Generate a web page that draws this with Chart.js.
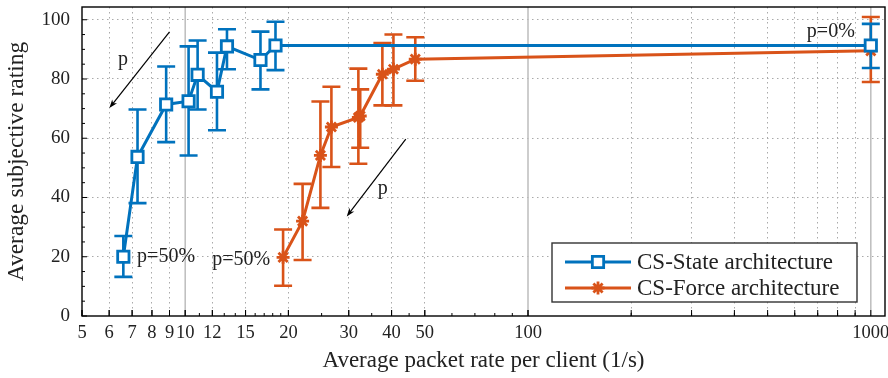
<!DOCTYPE html>
<html>
<head>
<meta charset="utf-8">
<script src="https://cdn.jsdelivr.net/npm/chart.js@4.4.0/dist/chart.umd.min.js"></script>
<style>
  html, body { margin: 0; padding: 0; background: #fff; }
</style>
</head>
<body>
<canvas id="chart" width="888" height="378"></canvas>
<script>
var serif = "'Liberation Serif', 'DejaVu Serif', serif";

// CS-State architecture
var stateRate = [6.6, 7.26, 8.8, 10.23, 10.87, 12.38, 13.24, 16.58, 18.34, 1000];
var stateRating = [20, 53.7, 71.4, 72.5, 81.4, 75.7, 91, 86.4, 91.3, 91.3];
var stateLow = [13.2, 38.1, 58.7, 54.2, 69.7, 62.7, 83.3, 76.5, 83, 83.7];
var stateHigh = [27, 69.7, 84.2, 91, 93, 88.9, 96.8, 96, 99.3, 98.6];

// CS-Force architecture
var forceRate = [19.3, 22.0, 24.8, 26.7, 32.0, 32.4, 37.6, 40.5, 46.9, 1000];
var forceRating = [19.8, 32, 54.2, 63.8, 67, 67.5, 81.6, 83.3, 86.7, 89.5];
var forceLow = [10.2, 18.9, 36.5, 50.3, 51.4, 56.8, 71.1, 71.1, 79.4, 79];
var forceHigh = [29.2, 44.6, 72.4, 77.4, 83.5, 76.5, 92.1, 95, 94.1, 100.9];

var xLabelTicks = [5, 6, 7, 8, 9, 10, 12, 15, 20, 30, 40, 50, 100, 1000];
var xMinorTicks = [200, 300, 400, 500, 600, 700, 800, 900];
var xSolidLines = [10, 100, 1000];
var yTicks = [0, 20, 40, 60, 80, 100];

var blue = '#0072BD';
var orange = '#D95319';

function toPoints(xs, ys) {
    return xs.map(function (x, i) { return { x: x, y: ys[i] }; });
}

var extras = {
    id: 'extras',
    beforeDatasetsDraw: function (chart) {
        var ctx = chart.ctx;
        var area = chart.chartArea;
        var xs = chart.scales.x;
        ctx.save();
        ctx.strokeStyle = '#bdbdbd';
        ctx.lineWidth = 1.5;
        xSolidLines.forEach(function (v) {
            var x = xs.getPixelForValue(v);
            ctx.beginPath();
            ctx.moveTo(x, area.top);
            ctx.lineTo(x, area.bottom);
            ctx.stroke();
        });
        ctx.restore();
    },
    beforeDatasetDraw: function (chart, args) {
        // error bars under each series' line
        var ds = chart.data.datasets[args.index];
        var ys = chart.scales.y;
        var ctx = chart.ctx;
        ctx.save();
        ctx.strokeStyle = ds.borderColor;
        ctx.lineWidth = 2.6;
        args.meta.data.forEach(function (pt, i) {
            var top = ys.getPixelForValue(ds.errHigh[i]);
            var bot = ys.getPixelForValue(ds.errLow[i]);
            ctx.beginPath();
            ctx.moveTo(pt.x, top);
            ctx.lineTo(pt.x, bot);
            ctx.moveTo(pt.x - 9, top);
            ctx.lineTo(pt.x + 9, top);
            ctx.moveTo(pt.x - 9, bot);
            ctx.lineTo(pt.x + 9, bot);
            ctx.stroke();
        });
        ctx.restore();
    },
    afterDraw: function (chart) {
        var ctx = chart.ctx;
        var area = chart.chartArea;
        var xs = chart.scales.x;
        var ys = chart.scales.y;
        ctx.save();

        // inner tick marks
        ctx.strokeStyle = '#000';
        ctx.lineWidth = 1;
        ctx.beginPath();
        for (var v = 0; v <= 100; v += 5) {
            var y = ys.getPixelForValue(v);
            var len = v % 20 === 0 ? 5 : 3;
            ctx.moveTo(area.left, y);
            ctx.lineTo(area.left + len, y);
        }
        var minorX = [];
        for (var m = 5; m <= 20; m++) minorX.push(m);
        [25, 30, 35, 40, 45, 50, 60, 70, 80, 90, 100].forEach(function (m) { minorX.push(m); });
        minorX = minorX.concat(xMinorTicks);
        minorX.forEach(function (m) {
            var x = xs.getPixelForValue(m);
            var len = xLabelTicks.indexOf(m) >= 0 ? 6 : 3;
            ctx.moveTo(x, area.bottom);
            ctx.lineTo(x, area.bottom - len);
        });
        xLabelTicks.concat(xMinorTicks).forEach(function (m) {
            var x = xs.getPixelForValue(m);
            ctx.moveTo(x, area.bottom);
            ctx.lineTo(x, area.bottom - 6);
        });
        ctx.stroke();

        // frame
        ctx.lineWidth = 1.4;
        ctx.strokeRect(area.left, area.top, area.right - area.left, area.bottom - area.top);

        // annotations
        function arrow(x1, y1, x2, y2) {
            var ax = xs.getPixelForValue(x1), ay = ys.getPixelForValue(y1);
            var bx = xs.getPixelForValue(x2), by = ys.getPixelForValue(y2);
            var ang = Math.atan2(by - ay, bx - ax);
            ctx.strokeStyle = '#000';
            ctx.fillStyle = '#000';
            ctx.lineWidth = 1.2;
            ctx.beginPath();
            ctx.moveTo(ax, ay);
            ctx.lineTo(bx - 5 * Math.cos(ang), by - 5 * Math.sin(ang));
            ctx.stroke();
            ctx.beginPath();
            ctx.moveTo(bx, by);
            ctx.lineTo(bx - 9 * Math.cos(ang - 0.35), by - 9 * Math.sin(ang - 0.35));
            ctx.lineTo(bx - 6 * Math.cos(ang), by - 6 * Math.sin(ang));
            ctx.lineTo(bx - 9 * Math.cos(ang + 0.35), by - 9 * Math.sin(ang + 0.35));
            ctx.closePath();
            ctx.fill();
        }
        function label(text, x, y, align) {
            ctx.fillStyle = '#222';
            ctx.font = '20px ' + serif;
            ctx.textAlign = align;
            ctx.textBaseline = 'middle';
            ctx.fillText(text, xs.getPixelForValue(x), ys.getPixelForValue(y));
        }
        arrow(9, 95.9, 6.01, 70.2);
        arrow(44, 59.7, 29.6, 33.6);
        label('p', 6.59, 86.4, 'center');
        label('p', 37.7, 43, 'center');
        label('p=50%', 7.24, 20, 'left');
        label('p=50%', 17.7, 19, 'right');
        label('p=0%', 898, 96, 'right');

        // legend
        var bx0 = 552, by0 = 243, bw = 305, bh = 59;
        ctx.fillStyle = '#fff';
        ctx.fillRect(bx0, by0, bw, bh);
        ctx.strokeStyle = '#333';
        ctx.lineWidth = 1.4;
        ctx.strokeRect(bx0, by0, bw, bh);
        var rows = [
            { ds: chart.data.datasets[0], y: 262 },
            { ds: chart.data.datasets[1], y: 288 }
        ];
        rows.forEach(function (r) {
            ctx.strokeStyle = r.ds.borderColor;
            ctx.lineWidth = 3;
            ctx.beginPath();
            ctx.moveTo(565, r.y);
            ctx.lineTo(631, r.y);
            ctx.stroke();
            ctx.fillStyle = r.ds.pointBackgroundColor;
            ctx.lineWidth = r.ds.pointBorderWidth;
            Chart.helpers.drawPoint(ctx, {
                pointStyle: r.ds.pointStyle,
                radius: r.ds.pointRadius,
                borderWidth: r.ds.pointBorderWidth,
                rotation: 0
            }, 598, r.y);
            ctx.fillStyle = '#222';
            ctx.font = '23px ' + serif;
            ctx.textAlign = 'left';
            ctx.textBaseline = 'middle';
            ctx.fillText(r.ds.label, 637, r.y + 1);
        });
        ctx.restore();
    }
};

var chart = new Chart(document.getElementById('chart'), {
    type: 'line',
    data: {
        datasets: [
            {
                label: 'CS-State architecture',
                data: toPoints(stateRate, stateRating),
                errLow: stateLow,
                errHigh: stateHigh,
                borderColor: blue,
                borderWidth: 3,
                pointStyle: 'rect',
                pointRadius: 8,
                pointBorderWidth: 2.8,
                pointBackgroundColor: '#fff',
                pointBorderColor: blue,
                tension: 0
            },
            {
                label: 'CS-Force architecture',
                data: toPoints(forceRate, forceRating),
                errLow: forceLow,
                errHigh: forceHigh,
                borderColor: orange,
                borderWidth: 3,
                pointStyle: 'star',
                pointRadius: 6.5,
                pointBorderWidth: 2.8,
                pointBackgroundColor: orange,
                pointBorderColor: orange,
                tension: 0
            }
        ]
    },
    options: {
        responsive: false,
        animation: false,
        clip: false,
        layout: { autoPadding: false, padding: { top: 7, right: 3, left: 0, bottom: 0 } },
        plugins: {
            legend: { display: false },
            tooltip: { enabled: false }
        },
        scales: {
            x: {
                type: 'logarithmic',
                min: 5,
                max: 1100,
                afterBuildTicks: function (scale) {
                    scale.ticks = xLabelTicks.concat(xMinorTicks)
                        .sort(function (a, b) { return a - b; })
                        .map(function (v) { return { value: v }; });
                },
                afterFit: function (scale) {
                    scale.height = 62;
                    scale.paddingLeft = 0;
                    scale.paddingRight = 0;
                },
                ticks: {
                    autoSkip: false,
                    maxRotation: 0,
                    padding: 6,
                    color: '#222',
                    font: { family: serif, size: 18.5 },
                    callback: function (value) {
                        return xLabelTicks.indexOf(value) >= 0 ? String(value) : '';
                    }
                },
                grid: {
                    drawTicks: false,
                    lineWidth: 1,
                    color: function (c) {
                        var v = c.tick && c.tick.value;
                        if (v === 5 || xSolidLines.indexOf(v) >= 0) return 'rgba(0,0,0,0)';
                        return '#aaaaaa';
                    }
                },
                border: { display: false, dash: [1.5, 3.5] },
                title: {
                    display: true,
                    text: 'Average packet rate per client (1/s)',
                    color: '#222',
                    font: { family: serif, size: 23 },
                    padding: { top: 0, bottom: 3 }
                }
            },
            y: {
                min: 0,
                max: 104.3,
                afterBuildTicks: function (scale) {
                    scale.ticks = yTicks.map(function (v) { return { value: v }; });
                },
                afterFit: function (scale) {
                    scale.width = 82;
                    scale.paddingTop = 0;
                    scale.paddingBottom = 0;
                },
                ticks: {
                    padding: 12,
                    color: '#222',
                    font: { family: serif, size: 19 }
                },
                grid: {
                    drawTicks: false,
                    lineWidth: 1,
                    color: function (c) {
                        var v = c.tick && c.tick.value;
                        return v === 0 ? 'rgba(0,0,0,0)' : '#aaaaaa';
                    }
                },
                border: { display: false, dash: [1.5, 3.5] },
                title: {
                    display: true,
                    text: 'Average subjective rating',
                    color: '#222',
                    font: { family: serif, size: 23.5 },
                    padding: { top: 3, bottom: 0 }
                }
            }
        }
    },
    plugins: [extras]
});
</script>
</body>
</html>
